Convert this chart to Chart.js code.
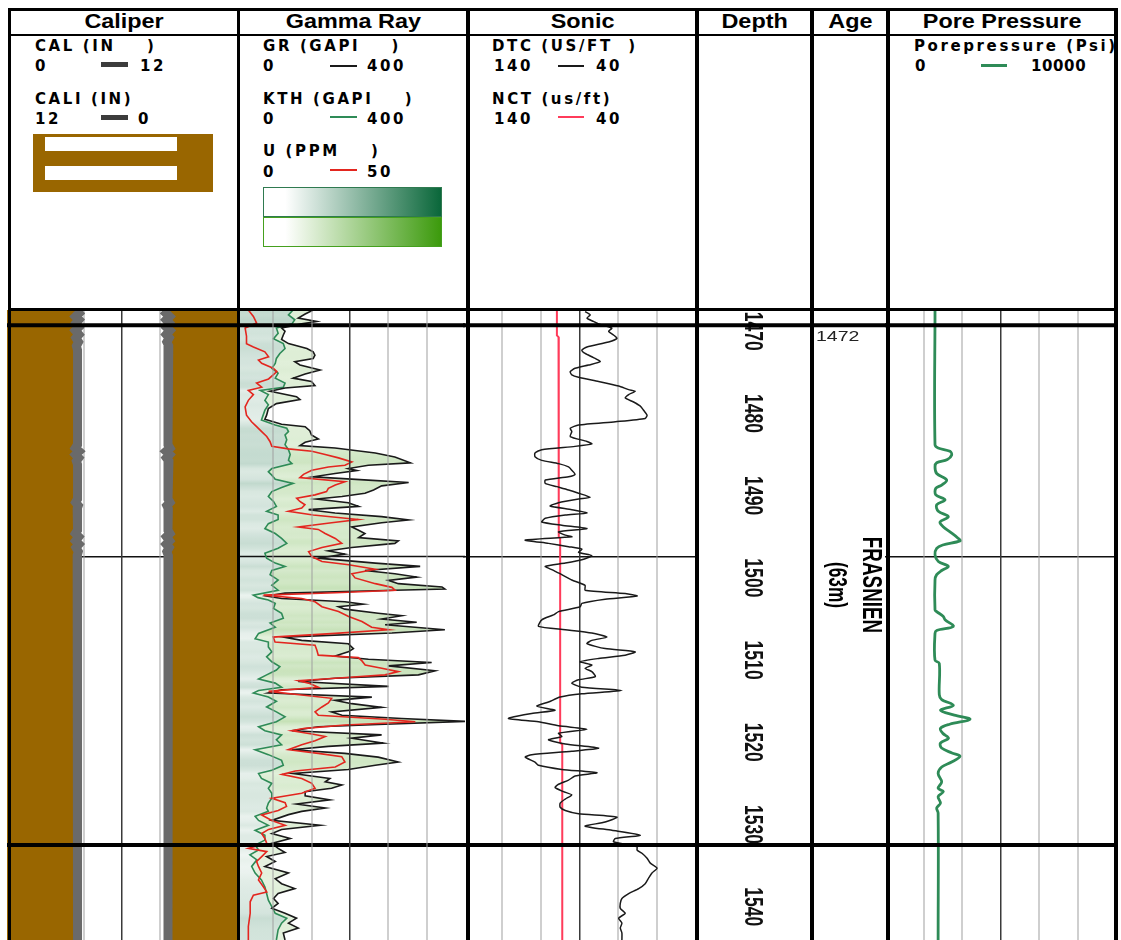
<!DOCTYPE html>
<html>
<head>
<meta charset="utf-8">
<title>Well log – Frasnien interval</title>
<script src="https://cdn.jsdelivr.net/npm/chart.js@4.4.1/dist/chart.umd.min.js"></script>
<style>
  html, body { margin: 0; padding: 0; background: #fff; }
  #log { position: relative; width: 1121px; height: 940px; overflow: hidden; background: #fff; }
  .trk { position: absolute; top: 310px; height: 630px; }
  .trk canvas { display: block; }
  .ln { position: absolute; background: #000; z-index: 5; }
  .ttl { position: absolute; top: 10px; height: 22px; line-height: 20px; text-align: center;
         font: bold 19.5px "Liberation Sans", Arial, sans-serif; color: #000; z-index: 6; }
  .ttl span { display: inline-block; transform: scaleX(1.2); }
  .lg { position: absolute; font: bold 15px "DejaVu Sans", Verdana, sans-serif; letter-spacing: 2.6px;
        line-height: 16px; white-space: pre; color: #000; z-index: 6; }
  .sw { position: absolute; z-index: 6; }
  .rot { position: absolute; white-space: nowrap; z-index: 6; color: #000;
         font-family: "Liberation Sans", Arial, sans-serif; font-weight: bold; }
</style>
</head>
<body>
<div id="log">
  <!-- track canvases -->
  <div class="trk" style="left:235px;width:230px"><canvas id="grCanvas" width="230" height="630"></canvas></div>
  <div class="trk" style="left:7px;width:230px"><canvas id="calCanvas" width="230" height="630"></canvas></div>
  <div class="trk" style="left:463px;width:233px"><canvas id="sonCanvas" width="233" height="630"></canvas></div>
  <div class="trk" style="left:697px;width:115px"><canvas id="depCanvas" width="115" height="630"></canvas></div>
  <div class="trk" style="left:812px;width:75px"><canvas id="ageCanvas" width="75" height="630"></canvas></div>
  <div class="trk" style="left:885px;width:231px"><canvas id="ppCanvas" width="231" height="630"></canvas></div>

  <!-- frame -->
  <div class="ln" style="left:8px;top:8px;width:1110px;height:3px"></div>
  <div class="ln" style="left:8px;top:34px;width:1110px;height:2px"></div>
  <div class="ln" style="left:8px;top:308px;width:1110px;height:3px"></div>
  <div class="ln" style="left:8px;top:8px;width:3px;height:932px"></div>
  <div class="ln" style="left:237px;top:8px;width:3px;height:932px"></div>
  <div class="ln" style="left:466px;top:8px;width:4px;height:932px"></div>
  <div class="ln" style="left:695px;top:8px;width:4px;height:932px"></div>
  <div class="ln" style="left:810px;top:8px;width:4px;height:932px"></div>
  <div class="ln" style="left:886px;top:8px;width:4px;height:932px"></div>
  <div class="ln" style="left:1114px;top:8px;width:4px;height:932px"></div>

  <!-- track titles -->
  <div class="ttl" style="left:11px;width:226px"><span>Caliper</span></div>
  <div class="ttl" style="left:240px;width:226px"><span>Gamma Ray</span></div>
  <div class="ttl" style="left:470px;width:225px"><span>Sonic</span></div>
  <div class="ttl" style="left:699px;width:111px"><span>Depth</span></div>
  <div class="ttl" style="left:814px;width:72px"><span>Age</span></div>
  <div class="ttl" style="left:890px;width:224px"><span>Pore Pressure</span></div>

  <!-- caliper legend -->
  <div class="lg" style="left:35px;top:38px">CAL (IN    )</div>
  <div class="lg" style="left:35px;top:58px">0</div>
  <div class="sw" style="left:101px;top:62px;width:27px;height:5px;background:#3c3c3c"></div>
  <div class="lg" style="left:140px;top:58px">12</div>
  <div class="lg" style="left:35px;top:91px">CALI (IN)</div>
  <div class="lg" style="left:35px;top:111px">12</div>
  <div class="sw" style="left:101px;top:115px;width:27px;height:5px;background:#3c3c3c"></div>
  <div class="lg" style="left:138px;top:111px">0</div>
  <div class="sw" style="left:33px;top:134px;width:180px;height:58px;background:#996600"></div>
  <div class="sw" style="left:45px;top:137px;width:132px;height:14px;background:#fff"></div>
  <div class="sw" style="left:45px;top:166px;width:132px;height:14px;background:#fff"></div>

  <!-- gamma ray legend -->
  <div class="lg" style="left:263px;top:38px">GR (GAPI    )</div>
  <div class="lg" style="left:263px;top:58px">0</div>
  <div class="sw" style="left:330px;top:65px;width:27px;height:1.5px;background:#1a1a1a"></div>
  <div class="lg" style="left:367px;top:58px">400</div>
  <div class="lg" style="left:263px;top:91px">KTH (GAPI    )</div>
  <div class="lg" style="left:263px;top:111px">0</div>
  <div class="sw" style="left:330px;top:116px;width:27px;height:1.5px;background:#2e8b57"></div>
  <div class="lg" style="left:367px;top:111px">400</div>
  <div class="lg" style="left:263px;top:143px">U (PPM    )</div>
  <div class="lg" style="left:263px;top:164px">0</div>
  <div class="sw" style="left:330px;top:169px;width:27px;height:1.5px;background:#e3261f"></div>
  <div class="lg" style="left:367px;top:164px">50</div>
  <div class="sw" style="left:263px;top:187px;width:177px;height:28px;border:1.5px solid #2f7a50;
       background:linear-gradient(to right,#fff 0%,#fff 12%,#0a673a 100%)"></div>
  <div class="sw" style="left:263px;top:217px;width:177px;height:28px;border:1.5px solid #45a01e;
       background:linear-gradient(to right,#fff 0%,#fff 12%,#3c9a0c 100%)"></div>

  <!-- sonic legend -->
  <div class="lg" style="left:492px;top:38px">DTC (US/FT  )</div>
  <div class="lg" style="left:494px;top:58px">140</div>
  <div class="sw" style="left:558px;top:65px;width:26px;height:1.5px;background:#1a1a1a"></div>
  <div class="lg" style="left:596px;top:58px">40</div>
  <div class="lg" style="left:492px;top:91px">NCT (us/ft)</div>
  <div class="lg" style="left:494px;top:111px">140</div>
  <div class="sw" style="left:558px;top:116px;width:26px;height:2px;background:#ff3b5a"></div>
  <div class="lg" style="left:596px;top:111px">40</div>

  <!-- pore pressure legend -->
  <div class="sw" style="left:890px;top:36px;width:224px;height:40px;overflow:hidden">
    <div class="lg" style="left:24px;top:2px">Porepressure (Psi)</div>
    <div class="lg" style="left:25px;top:22px">0</div>
    <div class="sw" style="left:91px;top:28px;width:26px;height:3px;background:#2e8b57"></div>
    <div class="lg" style="left:141px;top:22px;letter-spacing:0.6px">10000</div>
  </div>

  <!-- age column -->
  <div class="sw" style="left:816px;top:328px;font:15px 'Liberation Sans',Arial,sans-serif;color:#222;line-height:15px;
       transform:scaleX(1.3);transform-origin:0 0">1472</div>
  <div class="rot" style="left:872px;top:585px;font-size:23px;transform:translate(-50%,-50%) rotate(90deg) scale(0.82,1.2)">FRASNIEN</div>
  <div class="rot" style="left:837px;top:585px;font-size:21px;transform:translate(-50%,-50%) rotate(90deg) scale(0.82,1.2)">(63m)</div>
</div>

<script>
// ---- depth window and reference depths (m) ----
const TOP_DEPTH = 1467.41;
const BASE_DEPTH = 1544.05;
const DEPTH_TICKS = [1470, 1480, 1490, 1500, 1510, 1520, 1530, 1540];
const FORMATION_BOUNDS = [1469.26, 1532.49];
const MARKER_DEPTH = 1497.4;

// ---- caliper (in) : [depth, value] ----
const CAL_LOG = [[1467.4,3.62],[1467.8,3.76],[1468.2,3.58],[1468.6,3.75],[1469.0,3.6],[1469.5,3.74],[1469.9,3.57],
  [1470.4,3.75],[1470.8,3.6],[1471.3,3.73],[1471.8,3.62],[1472.3,3.68],[1483.8,3.68],[1484.2,3.57],[1484.6,3.76],
  [1485.0,3.58],[1485.4,3.74],[1485.8,3.62],[1486.2,3.68],[1490.4,3.68],[1490.8,3.58],[1491.2,3.72],[1491.6,3.66],
  [1494.2,3.68],[1494.6,3.57],[1495.0,3.74],[1495.5,3.58],[1495.9,3.75],[1496.3,3.6],[1496.8,3.72],[1497.3,3.66],
  [1544.05,3.68]];
const CALI_LOG = [[1467.4,3.55],[1467.8,3.7],[1468.2,3.52],[1468.6,3.69],[1469.0,3.53],[1469.5,3.68],[1469.9,3.5],
  [1470.4,3.69],[1470.8,3.54],[1471.3,3.66],[1471.8,3.56],[1472.3,3.6],[1483.8,3.6],[1484.2,3.5],[1484.6,3.7],
  [1485.0,3.52],[1485.4,3.68],[1485.8,3.55],[1486.2,3.6],[1490.4,3.6],[1490.8,3.5],[1491.2,3.66],[1491.6,3.58],
  [1494.2,3.6],[1494.6,3.5],[1495.0,3.68],[1495.5,3.52],[1495.9,3.69],[1496.3,3.54],[1496.8,3.66],[1497.3,3.58],
  [1544.05,3.6]];

// ---- gamma ray (GAPI) ----
const GR_LOG = [[1467.41,136],[1467.9,122],[1468.4,110],[1468.8,142],[1469.1,116],[1469.6,81],[1470.0,87],[1470.45,84],
  [1471.0,81],[1471.5,93],[1472.1,125],[1472.5,136],[1472.9,139],[1473.3,136],[1473.7,104],[1474.1,113],[1474.7,148],
  [1475.2,122],[1475.7,101],[1476.1,133],[1476.6,139],[1476.9,87],[1477.3,61],[1477.95,107],[1478.3,113],[1478.8,72],
  [1479.4,58],[1480.2,55],[1480.7,52],[1481.3,81],[1481.6,122],[1482.1,130],[1482.6,133],[1483.1,145],[1483.5,122],
  [1483.9,113],[1484.2,174],[1484.8,244],[1485.3,278],[1486.0,305],[1486.3,232],[1486.7,197],[1486.95,212],[1487.3,174],
  [1487.7,136],[1488.1,232],[1488.4,302],[1488.8,255],[1489.3,241],[1489.7,226],[1490.1,186],[1490.4,142],[1490.85,197],
  [1491.3,215],[1491.7,128],[1492.1,174],[1492.55,255],[1492.95,302],[1493.3,255],[1493.8,203],[1494.2,215],[1494.6,226],
  [1495.1,215],[1495.5,284],[1495.8,278],[1496.3,203],[1496.7,162],[1497.1,191],[1497.6,145],[1498.2,244],[1498.6,322],
  [1499.1,226],[1499.5,278],[1499.9,316],[1500.3,267],[1500.7,284],[1501.1,360],[1501.35,365],[1501.5,278],[1501.85,87],
  [1502.2,55],[1502.5,81],[1502.9,191],[1503.2,223],[1503.5,180],[1503.8,191],[1504.3,249],[1504.6,290],[1505.0,255],
  [1505.4,316],[1505.7,261],[1506.3,365],[1506.7,273],[1507.2,84],[1507.6,116],[1508.0,197],[1508.6,206],[1509.0,197],
  [1509.5,174],[1509.9,232],[1510.3,342],[1510.7,267],[1511.3,348],[1511.8,319],[1512.2,174],[1512.6,110],[1513.2,267],
  [1513.6,81],[1514.0,58],[1514.5,238],[1514.9,174],[1515.3,203],[1515.75,255],[1516.3,168],[1516.7,186],[1517.1,290],
  [1517.45,400],[1517.8,261],[1518.1,145],[1518.6,99],[1519.1,255],[1519.5,203],[1520.1,258],[1520.5,162],[1520.9,99],
  [1521.35,191],[1521.8,249],[1522.4,284],[1522.8,244],[1523.3,197],[1523.8,101],[1524.4,165],[1524.8,157],[1525.2,186],
  [1525.6,168],[1526.0,122],[1526.5,122],[1527.0,165],[1527.5,107],[1528.0,157],[1528.4,116],[1528.8,93],[1529.5,64],
  [1530.1,148],[1530.6,81],[1531.1,64],[1531.7,96],[1532.3,64],[1532.9,75],[1533.4,87],[1533.9,55],[1534.5,70],
  [1535.1,52],[1535.9,93],[1536.6,70],[1537.2,81],[1537.8,104],[1538.4,75],[1539.0,67],[1539.6,75],[1540.2,64],
  [1540.8,87],[1541.4,107],[1542.0,93],[1542.6,110],[1543.2,84],[1544.05,87]];

// ---- thorium-potassium gamma (GAPI) ----
const KTH_LOG = [[1467.41,101],[1468.0,93],[1468.6,104],[1469.1,99],[1469.6,72],[1470.25,75],[1470.9,67],[1471.5,84],
  [1472.1,87],[1472.7,78],[1473.3,72],[1473.9,70],[1474.5,64],[1475.1,75],[1475.7,70],[1476.3,87],[1476.8,84],[1477.2,44],
  [1477.7,58],[1478.4,52],[1478.95,58],[1479.6,52],[1480.2,49],[1480.8,46],[1481.4,70],[1481.8,90],[1482.2,93],[1482.6,87],
  [1483.2,90],[1483.8,87],[1484.4,93],[1485.0,96],[1485.7,93],[1486.1,99],[1486.7,64],[1487.1,58],[1487.5,64],[1488.0,70],
  [1488.5,101],[1489.0,81],[1489.5,64],[1490.1,58],[1490.7,67],[1491.3,72],[1491.9,55],[1492.35,75],[1492.9,75],[1493.4,58],
  [1494.0,52],[1494.6,70],[1495.2,81],[1495.8,90],[1496.4,75],[1497.0,52],[1497.6,55],[1498.2,70],[1498.6,87],[1499.1,64],
  [1499.6,61],[1500.25,75],[1500.9,64],[1501.5,75],[1502.1,32],[1502.4,40],[1502.7,58],[1503.1,70],[1503.7,67],[1504.3,81],
  [1504.9,84],[1505.5,61],[1506.0,70],[1506.75,41],[1507.4,35],[1507.8,58],[1508.4,58],[1509.0,64],[1509.6,55],[1510.2,64],
  [1510.8,78],[1511.2,72],[1511.8,55],[1512.3,41],[1512.8,70],[1513.3,81],[1513.7,41],[1514.0,32],[1514.5,58],[1515.0,72],
  [1515.7,55],[1516.3,72],[1516.9,87],[1517.5,72],[1518.1,41],[1518.6,52],[1519.1,81],[1519.7,72],[1520.3,81],[1520.9,35],
  [1521.5,58],[1522.2,81],[1522.8,84],[1523.4,64],[1523.8,41],[1524.4,46],[1525.0,64],[1525.6,58],[1526.2,64],[1526.8,64],
  [1527.4,58],[1528.0,55],[1528.4,58],[1529.0,35],[1529.5,41],[1530.1,58],[1530.7,35],[1531.3,52],[1531.9,52],[1532.5,35],
  [1533.1,41],[1533.7,26],[1534.3,38],[1535.1,29],[1535.9,35],[1536.75,46],[1537.6,52],[1538.4,55],[1539.2,58],[1540.0,64],
  [1540.8,70],[1541.4,90],[1542.0,81],[1542.8,75],[1544.05,72]];

// ---- uranium (ppm) ----
const U_LOG = [[1467.41,2.9],[1468.2,4.0],[1469.0,4.7],[1469.6,2.2],[1470.6,2.5],[1471.5,2.5],[1471.9,4.0],[1472.5,6.5],
  [1473.1,7.3],[1473.5,5.1],[1473.9,5.8],[1474.5,8.3],[1474.9,9.1],[1475.3,8.3],[1475.8,7.3],[1476.3,4.7],[1476.8,5.8],
  [1477.2,2.9],[1477.7,4.0],[1478.4,2.9],[1479.2,2.2],[1480.2,2.5],[1481.0,3.6],[1481.6,4.7],[1482.2,5.8],[1482.8,6.9],
  [1483.4,7.6],[1484.0,8.0],[1484.3,11.6],[1484.6,16.7],[1485.0,19.6],[1485.4,22.5],[1485.9,25.4],[1486.3,23.9],
  [1486.5,20.3],[1486.9,16.7],[1487.4,14.9],[1487.8,14.1],[1488.3,23.9],[1488.7,21.8],[1489.1,20.3],[1489.5,19.9],
  [1489.9,17.4],[1490.3,13.4],[1490.7,14.1],[1491.1,15.2],[1491.5,14.5],[1491.9,11.6],[1492.35,17.0],[1492.9,26.8],
  [1493.3,21.0],[1493.8,13.8],[1494.1,18.1],[1494.6,19.6],[1495.2,21.8],[1495.8,23.2],[1496.3,18.9],[1496.8,16.0],
  [1497.4,16.7],[1498.0,18.9],[1498.4,24.7],[1498.95,30.5],[1499.5,25.4],[1500.0,26.1],[1500.7,30.5],[1501.15,34.1],
  [1501.5,34.8],[1501.8,21.8],[1502.1,6.2],[1502.5,14.5],[1502.9,17.4],[1503.5,18.9],[1504.1,22.5],[1504.7,24.7],
  [1505.3,27.6],[1506.0,29.7],[1506.3,33.4],[1506.75,21.8],[1507.2,8.3],[1507.8,8.7],[1508.2,17.4],[1508.8,17.8],
  [1509.4,18.1],[1509.7,26.8],[1510.1,27.6],[1510.6,28.3],[1511.0,31.9],[1511.4,35.5],[1511.8,32.6],[1512.2,21.8],
  [1512.5,13.8],[1512.8,16.0],[1513.3,18.1],[1513.8,7.3],[1514.25,14.5],[1514.65,21.0],[1515.2,20.3],[1515.7,18.9],
  [1516.3,17.4],[1516.7,18.1],[1517.2,32.6],[1517.5,39.2],[1517.9,23.9],[1518.3,15.2],[1518.6,12.3],[1519.0,16.7],
  [1519.3,19.6],[1519.8,17.4],[1520.3,14.5],[1520.9,11.6],[1521.35,18.1],[1521.75,23.2],[1522.4,23.9],[1523.0,21.8],
  [1523.5,13.1],[1523.9,10.2],[1524.4,14.5],[1525.0,16.7],[1525.6,17.4],[1526.2,14.5],[1526.8,8.0],[1527.35,10.9],
  [1527.8,11.2],[1528.3,9.4],[1528.85,5.8],[1529.5,8.0],[1530.1,10.9],[1530.6,7.3],[1531.1,5.8],[1531.7,6.5],
  [1532.3,6.9],[1532.9,2.9],[1533.3,6.9],[1533.9,5.8],[1534.5,4.7],[1535.1,5.1],[1535.9,5.8],[1536.75,5.1],[1537.6,6.2],
  [1538.2,6.9],[1538.6,4.0],[1539.4,3.3],[1540.8,3.3],[1542.4,2.9],[1544.05,2.9]];

// ---- compressional slowness (us/ft) ----
const DTC_LOG = [[1467.6,87.6],[1468.0,85.4],[1468.4,86.8],[1468.8,84.0],[1469.1,81.8],[1469.6,76.1],[1470.0,77.5],
  [1470.45,75.4],[1470.85,73.9],[1471.3,77.5],[1471.9,86.8],[1472.3,89.0],[1472.7,87.6],[1473.2,84.0],[1473.7,81.1],
  [1474.1,86.1],[1474.5,91.9],[1474.9,94.0],[1475.3,93.3],[1475.6,90.4],[1476.1,81.8],[1476.65,73.2],[1477.1,68.9],
  [1477.3,66.1],[1477.7,68.9],[1478.1,70.4],[1478.6,66.8],[1479.1,63.9],[1479.6,62.5],[1480.2,61.0],[1480.6,61.8],
  [1481.0,74.6],[1481.4,90.4],[1481.8,94.0],[1482.2,93.3],[1482.8,94.0],[1483.4,86.8],[1483.7,84.7],[1484.0,91.9],
  [1484.4,106.2],[1484.8,109.1],[1485.25,109.1],[1485.7,106.2],[1486.1,99.0],[1486.5,94.7],[1486.9,93.3],[1487.4,91.9],
  [1487.7,94.7],[1488.1,104.7],[1488.5,104.7],[1488.9,99.7],[1489.3,94.7],[1489.7,90.4],[1490.2,85.4],[1490.4,90.4],
  [1490.85,99.0],[1491.25,102.6],[1491.7,93.3],[1492.1,86.8],[1492.35,96.1],[1492.75,104.7],[1493.2,106.2],[1493.6,97.6],
  [1494.0,86.8],[1494.4,99.0],[1494.8,96.1],[1495.0,93.3],[1495.4,113.3],[1495.8,103.3],[1496.2,94.7],[1496.5,89.0],
  [1496.9,90.4],[1497.3,84.7],[1497.8,89.0],[1498.2,96.1],[1498.6,104.7],[1499.0,101.9],[1499.6,97.6],[1500.25,93.3],
  [1500.9,87.6],[1501.5,87.6],[1501.9,70.4],[1502.2,65.3],[1502.6,79.0],[1503.1,89.0],[1503.5,89.7],[1504.1,99.0],
  [1504.5,101.2],[1505.1,106.2],[1505.9,107.6],[1506.3,96.1],[1506.7,84.7],[1507.2,78.2],[1507.6,84.7],[1508.0,86.8],
  [1508.6,79.0],[1509.0,66.1],[1509.4,70.4],[1509.8,81.8],[1510.2,89.7],[1510.6,84.7],[1511.0,87.6],[1511.4,84.7],
  [1512.0,83.2],[1512.4,90.4],[1512.8,93.3],[1513.3,89.0],[1513.7,71.8],[1514.1,89.0],[1514.5,98.3],[1515.1,103.3],
  [1515.6,108.3],[1516.1,100.5],[1516.5,110.5],[1517.1,120.5],[1517.5,107.6],[1518.0,99.0],[1518.4,86.8],[1518.9,99.0],
  [1519.3,97.6],[1519.7,103.3],[1520.2,96.1],[1520.7,81.8],[1521.1,93.3],[1521.5,110.5],[1521.8,113.3],[1522.4,109.1],
  [1522.8,107.6],[1523.3,97.6],[1523.7,82.5],[1524.1,91.9],[1524.6,94.7],[1525.1,99.0],[1525.5,100.5],[1526.0,96.9],
  [1526.4,93.3],[1526.9,96.1],[1527.4,98.3],[1527.9,98.3],[1528.3,96.1],[1528.7,90.4],[1529.1,73.9],[1529.7,79.0],
  [1530.2,87.6],[1530.7,76.1],[1531.3,63.9],[1531.7,74.6],[1532.1,75.4],[1532.7,65.3],[1533.1,65.3],[1533.5,63.2],
  [1534.1,61.0],[1534.7,59.6],[1535.3,56.7],[1535.9,58.9],[1536.5,60.3],[1537.2,61.8],[1537.8,64.6],[1538.4,68.9],
  [1539.0,71.8],[1539.6,72.5],[1540.2,72.5],[1540.8,70.4],[1541.4,73.2],[1542.0,71.8],[1542.6,72.5],[1543.2,71.8],
  [1544.05,71.8]];

// ---- normal compaction trend (us/ft) ----
const NCT_LOG = [[1467.41,99.7],[1470.5,99.7],[1470.7,99.0],[1495.0,98.9],[1495.2,98.3],[1520.0,98.3],[1520.3,97.4],[1544.05,97.4]];

// ---- pore pressure (psi) ----
const PP_LOG = [[1467.41,2165],[1483.8,2165],[1484.2,2300],[1484.6,2814],[1485.05,2886],[1485.6,2700],[1486.0,2237],
  [1486.5,2165],[1487.3,2237],[1488.1,2670],[1488.7,2454],[1489.1,2200],[1489.9,2200],[1490.5,2598],[1491.1,2237],
  [1491.9,2309],[1492.55,2742],[1493.2,2381],[1493.8,2530],[1494.4,2814],[1495.2,3175],[1495.5,3247],[1496.0,2500],
  [1496.4,2237],[1497.2,2165],[1498.0,2309],[1498.6,2742],[1499.1,2454],[1499.6,2237],[1500.25,2165],[1503.9,2165],
  [1504.1,2237],[1504.7,2526],[1505.1,2600],[1505.9,2959],[1506.4,2237],[1506.75,2165],[1510.0,2165],[1510.4,2350],
  [1514.2,2350],[1514.8,2454],[1515.5,2960],[1516.1,2400],[1516.7,3000],[1517.2,3680],[1517.8,2800],[1518.3,2400],
  [1518.9,2500],[1519.5,2750],[1520.1,2400],[1520.7,2450],[1521.3,2900],[1521.7,3247],[1522.4,2886],[1523.0,2454],
  [1523.8,2300],[1524.8,2454],[1525.6,2300],[1526.0,2526],[1526.6,2300],[1527.4,2400],[1528.0,2237],[1528.6,2300],
  [1544.05,2300]];

// ---- colour ramps used by the gamma-ray shading ----
const KTH_RAMP = [10, 103, 58];
const GR_RAMP = [60, 154, 12];

// ---------------------------------------------------------------------
const toPoints = log => log.map(([d, v]) => ({ x: v, y: d }));

function shade(rgb, t) {
  t = Math.max(0, Math.min(1, t));
  const c = rgb.map(k => Math.round(255 + (k - 255) * t));
  return `rgb(${c[0]},${c[1]},${c[2]})`;
}

// vertical gradient whose colour at each depth follows the curve's value
function depthShading(log, rgb, toT, fallbackT) {
  return (ctx) => {
    const chart = ctx.chart, area = chart.chartArea, ys = chart.scales.y;
    if (!area || !ys) return shade(rgb, fallbackT);
    const h = area.bottom - area.top;
    const g = chart.ctx.createLinearGradient(0, area.top, 0, area.bottom);
    log.forEach(([d, v]) => {
      const off = (ys.getPixelForValue(d) - area.top) / h;
      if (off >= 0 && off <= 1) g.addColorStop(off, shade(rgb, toT(v)));
    });
    return g;
  };
}

// horizontal rules and rotated depth numbers
function hline(chart, depth, width, color) {
  const ys = chart.scales.y, c = chart.ctx;
  const y = ys.getPixelForValue(depth);
  c.save();
  c.strokeStyle = color; c.lineWidth = width;
  c.beginPath(); c.moveTo(0, y); c.lineTo(chart.width, y); c.stroke();
  c.restore();
}

const trackLines = {
  id: 'trackLines',
  beforeDatasetsDraw(chart, args, opts) {
    if (opts.markerOver) hline(chart, MARKER_DEPTH, 1.5, '#111');
    if (opts.depthLabels) {
      const ys = chart.scales.y, c = chart.ctx;
      const cx = (chart.chartArea.left + chart.chartArea.right) / 2 - 1.5;
      c.save();
      c.fillStyle = '#111';
      c.font = 'bold 22px "Liberation Sans", Arial, sans-serif';
      c.textAlign = 'center';
      c.textBaseline = 'middle';
      ys.ticks.forEach(t => {
        const y = ys.getPixelForValue(t.value);
        c.save();
        c.translate(cx, y);
        c.rotate(Math.PI / 2);
        c.scale(0.8, 1.2);
        c.fillText(String(t.value), 0, 1);
        c.restore();
      });
      c.restore();
    }
  },
  afterDatasetsDraw(chart) {
    FORMATION_BOUNDS.forEach(d => hline(chart, d, 4, '#000'));
  }
};

function depthAxis(markerGrid, ticks) {
  return {
    type: 'linear', axis: 'y', min: TOP_DEPTH, max: BASE_DEPTH, reverse: true,
    ticks: { display: false },
    border: { display: false },
    grid: { display: markerGrid, drawTicks: false, color: '#111', lineWidth: 1.5 },
    afterBuildTicks: s => { s.ticks = (ticks || [MARKER_DEPTH]).map(v => ({ value: v })); }
  };
}

function valueAxis(min, max, reverse, gridOnTop) {
  return {
    type: 'linear', axis: 'x', position: 'top', min, max, reverse: !!reverse,
    ticks: { display: false },
    border: { display: false },
    grid: {
      drawTicks: false,
      z: gridOnTop ? 1 : 0,
      color: c => (c.index === 3 ? '#3a3a3a' : (c.index === 0 || c.index === 6) ? 'rgba(0,0,0,0)' : 'rgba(160,160,160,0.5)'),
      lineWidth: c => (c.index === 3 ? 1.5 : 2)
    },
    afterBuildTicks: s => { s.ticks = [0, 1, 2, 3, 4, 5, 6].map(i => ({ value: min + (max - min) * i / 6 })); }
  };
}

const hiddenAxis = (min, max, reverse) => ({ type: 'linear', axis: 'x', display: false, min, max, reverse: !!reverse });

function trackChart(id, datasets, scales, flags) {
  return new Chart(document.getElementById(id), {
    type: 'line',
    data: { datasets },
    options: {
      responsive: false, animation: false, events: [],
      indexAxis: 'y',
      layout: { padding: 0 },
      elements: { point: { radius: 0 }, line: { tension: 0 } },
      scales,
      plugins: {
        legend: { display: false },
        tooltip: { enabled: false },
        filler: { drawTime: 'beforeDatasetsDraw', propagate: false },
        trackLines: flags || {}
      }
    },
    plugins: [trackLines]
  });
}

// Caliper track
trackChart('calCanvas', [
  { label: 'CAL', data: toPoints(CAL_LOG), xAxisID: 'x', borderColor: '#6a6a6a', borderWidth: 9,
    fill: { value: 0 }, backgroundColor: '#996600' },
  { label: 'CALI', data: toPoints(CALI_LOG), xAxisID: 'x2', borderColor: '#6a6a6a', borderWidth: 9,
    fill: { value: 0 }, backgroundColor: '#996600' }
], { x: valueAxis(0, 12), x2: hiddenAxis(0, 12, true), y: depthAxis(true) });

// Gamma ray track
trackChart('grCanvas', [
  { label: 'GR', data: toPoints(GR_LOG), xAxisID: 'x', borderColor: '#1a1a1a', borderWidth: 1.6, order: 2,
    fill: 1, backgroundColor: depthShading(GR_LOG, GR_RAMP, v => 0.1 + v / 2000, 0.2) },
  { label: 'KTH', data: toPoints(KTH_LOG), xAxisID: 'x', borderColor: '#2e8b57', borderWidth: 1.6, order: 3,
    fill: { value: 0 }, backgroundColor: depthShading(KTH_LOG, KTH_RAMP, v => v / 400, 0.17) },
  { label: 'U', data: toPoints(U_LOG), xAxisID: 'xu', borderColor: '#e3261f', borderWidth: 1.6, order: 1, fill: false }
], { x: valueAxis(0, 400, false, true), xu: hiddenAxis(0, 50), y: depthAxis(false) }, { markerOver: true });

// Sonic track
trackChart('sonCanvas', [
  { label: 'NCT', data: toPoints(NCT_LOG), xAxisID: 'x', borderColor: '#ff3b5a', borderWidth: 2, fill: false, order: 2 },
  { label: 'DTC', data: toPoints(DTC_LOG), xAxisID: 'x', borderColor: '#1a1a1a', borderWidth: 1.5, fill: false, order: 1,
    tension: 0.2 }
], { x: valueAxis(40, 140, true), y: depthAxis(true) });

// Depth track
trackChart('depCanvas', [], { x: hiddenAxis(0, 1), y: depthAxis(false, DEPTH_TICKS) }, { depthLabels: true });

// Age track
trackChart('ageCanvas', [], { x: hiddenAxis(0, 1), y: depthAxis(false) });

// Pore pressure track
trackChart('ppCanvas', [
  { label: 'Porepressure', data: toPoints(PP_LOG), xAxisID: 'x', borderColor: '#2e8b57', borderWidth: 2.8,
    fill: false, tension: 0.35 }
], { x: valueAxis(0, 10000), y: depthAxis(true) });
</script>
</body>
</html>
